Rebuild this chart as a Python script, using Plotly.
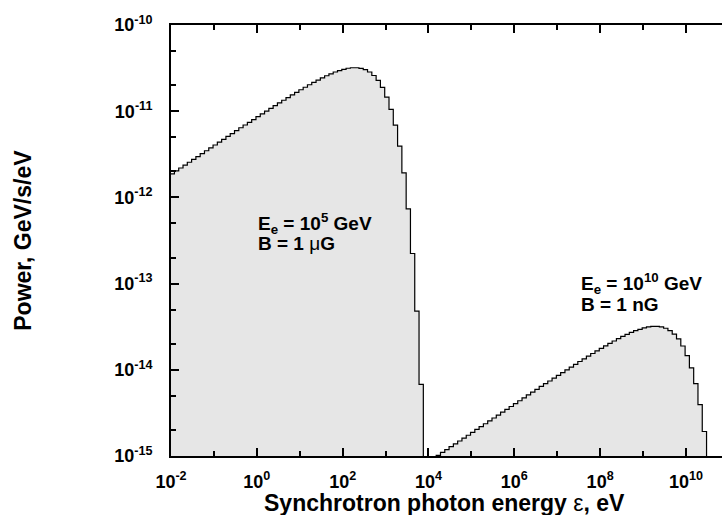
import numpy as np
import plotly.graph_objects as go

# ---------------- data (log10 of bin centre energy in eV, log10 power in GeV/s/eV)
left_bin_centers_log = np.round(np.linspace(-2.07, 3.83, 60), 2)
left_log_power = [
    -11.759, -11.726, -11.692, -11.659, -11.626, -11.592, -11.559, -11.526, -11.492, -11.459,
    -11.426, -11.392, -11.359, -11.326, -11.292, -11.259, -11.226, -11.192, -11.160, -11.130,
    -11.097, -11.064, -11.032, -11.000, -10.968, -10.936, -10.904, -10.873, -10.842, -10.811,
    -10.781, -10.751, -10.722, -10.693, -10.666, -10.639, -10.613, -10.589, -10.566, -10.545,
    -10.530, -10.514, -10.502, -10.496, -10.496, -10.503, -10.518, -10.545, -10.586, -10.642,
    -10.724, -10.836, -10.978, -11.161, -11.405, -11.716, -12.134, -12.651, -13.320, -14.170,
]
right_bin_centers_log = np.round(np.linspace(4.13, 10.43, 64), 2)
right_log_power = [
    -15.026, -14.992, -14.959, -14.926, -14.892, -14.859, -14.826, -14.792,
    -14.759, -14.726, -14.692, -14.659, -14.626, -14.592, -14.559, -14.526, -14.492, -14.459,
    -14.426, -14.392, -14.359, -14.326, -14.292, -14.259, -14.226, -14.192, -14.160, -14.130,
    -14.097, -14.064, -14.032, -14.000, -13.968, -13.936, -13.904, -13.873, -13.842, -13.811,
    -13.781, -13.751, -13.722, -13.693, -13.666, -13.639, -13.613, -13.589, -13.566, -13.545,
    -13.530, -13.514, -13.502, -13.496, -13.496, -13.503, -13.518, -13.545, -13.586, -13.642,
    -13.724, -13.836, -13.978, -14.161, -14.405, -14.716,
]
bin_width_log = 0.1

x_major_exp = [-2, 0, 2, 4, 6, 8, 10]
x_minor_exp = [-1, 1, 3, 5, 7, 9]
y_major_exp = [-15, -14, -13, -12, -11, -10]

BASE = 1e-16
FONT = "Liberation Sans, Arial, Helvetica, sans-serif"


def step_xy(centers, logp):
    c = np.asarray(centers, dtype=float)
    lo = 10 ** (c - bin_width_log / 2)
    hi = 10 ** (c + bin_width_log / 2)
    xs = [lo[0]] + list(lo) + [hi[-1]]
    ys = [BASE] + list(10 ** np.asarray(logp)) + [BASE]
    return xs, ys


fig = go.Figure()
for centers, logp in [(left_bin_centers_log, left_log_power),
                      (right_bin_centers_log, right_log_power)]:
    xs, ys = step_xy(centers, logp)
    fig.add_trace(go.Scatter(
        x=xs, y=ys, mode="lines", line=dict(shape="hv", color="black", width=1.2),
        fill="toself", fillcolor="#e6e6e6", showlegend=False, hoverinfo="skip"))

y_minor = []
for e in y_major_exp[:-1]:
    y_minor += [2 * 10.0 ** e, 5 * 10.0 ** e]

fig.update_xaxes(
    type="log", range=[-2, 10.84],
    showline=True, linecolor="black", linewidth=2, mirror="ticks",
    ticks="inside", ticklen=8, tickwidth=1.5, tickcolor="black",
    tickvals=[10.0 ** e for e in x_major_exp],
    ticktext=[f"10<sup>{e}</sup>" for e in x_major_exp],
    tickfont=dict(family=FONT, size=18, color="black", weight="bold"),
    ticklabelstandoff=8,
    minor=dict(tickvals=[10.0 ** e for e in x_minor_exp], ticks="inside",
               ticklen=5, tickwidth=1.5, tickcolor="black", showgrid=False),
    showgrid=False, zeroline=False,
)
fig.update_yaxes(
    type="log", range=[-15, -10],
    showline=True, linecolor="black", linewidth=2, mirror=False,
    ticks="inside", ticklen=8, tickwidth=1.5, tickcolor="black",
    tickvals=[10.0 ** e for e in y_major_exp],
    ticktext=[f"10<sup>{e}</sup>" for e in y_major_exp],
    tickfont=dict(family=FONT, size=18, color="black", weight="bold"),
    ticklabelstandoff=13,
    minor=dict(tickvals=y_minor, ticks="inside",
               ticklen=5, tickwidth=1.5, tickcolor="black", showgrid=False),
    showgrid=False, zeroline=False,
)

ann_font = dict(family=FONT, size=19, color="black")
annotations = [
    dict(x=-0.02, y=-12.30, text="<b>E<sub>e</sub> = 10<sup>5</sup> GeV</b>"),
    dict(x=-0.02, y=-12.53, text="<b>B = 1 </b>μ<b>G</b>"),
    dict(x=7.50, y=-13.00, text="<b>E<sub>e</sub> = 10<sup>10</sup> GeV</b>"),
    dict(x=7.50, y=-13.24, text="<b>B = 1 nG</b>"),
]
for a in annotations:
    fig.add_annotation(xref="x", yref="y", xanchor="left", yanchor="middle",
                       showarrow=False, font=ann_font, **a)

fig.add_annotation(xref="paper", yref="paper", x=0.497, y=-0.11,
                   xanchor="center", yanchor="middle", showarrow=False,
                   text="<b>Synchrotron photon energy </b>ε<b>, eV</b>",
                   font=dict(family=FONT, size=23, color="black"))
fig.add_annotation(xref="paper", yref="paper", x=-0.27, y=0.5,
                   xanchor="center", yanchor="middle", showarrow=False, textangle=-90,
                   text="<b>Power, GeV/s/eV</b>",
                   font=dict(family=FONT, size=23, color="black"))

fig.update_layout(
    width=722, height=515,
    margin=dict(l=171, r=0, t=25, b=59),
    paper_bgcolor="white", plot_bgcolor="white",
)

fig.write_html("out.html")
